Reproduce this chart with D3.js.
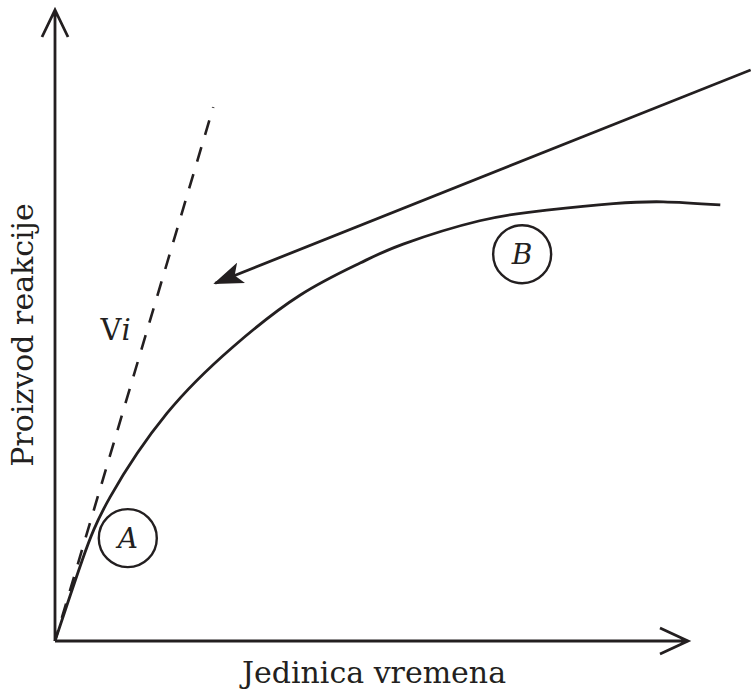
<!DOCTYPE html>
<html>
<head>
<meta charset="utf-8">
<script src="https://cdn.jsdelivr.net/npm/d3@7"></script>
<style>
  body { margin: 0; background: #fff; }
  svg { display: block; }
  text { font-family: "DejaVu Serif", "Liberation Serif", serif; fill: #231f20; }
</style>
</head>
<body>
<div id="chart"></div>
<script>
// set the dimensions of the drawing
const width = 751,
    height = 695;

// product curve (time units, product units)
const curveTime = [0, 0.43, 0.87, 1.77, 2.81, 3.87, 4.82, 5.50, 6.71, 7.77, 8.82, 9.61, 10.51];
const curveProduct = [0, 1.28, 2.28, 3.61, 4.66, 5.48, 5.99, 6.29, 6.66, 6.83, 6.93, 6.96, 6.91];

// initial rate tangent (Vi)
const tangentTime = [0, 2.50];
const tangentProduct = [0, 8.46];

// arrow from upper right pointing towards the tangent
const arrowTime = [10.99, 2.53];
const arrowProduct = [9.05, 5.67];

// circled region labels
const regionLabels = ["A", "B"];
const regionTime = [1.15, 7.38];
const regionProduct = [1.63, 6.13];

const xLabel = "Jedinica vremena";
const yLabel = "Proizvod reakcije";

const ink = "#231f20";

const svg = d3.select("#chart")
    .append("svg")
    .attr("width", width)
    .attr("height", height);

// scales: axis length runs 0..10 in both directions
const x = d3.scaleLinear().domain([0, 10]).range([55, 688]);
const y = d3.scaleLinear().domain([0, 10]).range([641, 10]);

// axes with open arrow heads
const axes = svg.append("g")
    .attr("fill", "none")
    .attr("stroke", ink)
    .attr("stroke-width", 2.8);

axes.append("path")
    .attr("d", `M${x(0)},${y(0)}V${y(10)}M${x(0) - 13},${y(10) + 27}L${x(0)},${y(10)}L${x(0) + 13},${y(10) + 27}`);

axes.append("path")
    .attr("d", `M${x(0)},${y(0)}H${x(10)}M${x(10) - 28},${y(0) - 13}L${x(10)},${y(0)}L${x(10) - 28},${y(0) + 13}`);

// dashed tangent line Vi
svg.append("line")
    .attr("x1", x(tangentTime[0]))
    .attr("y1", y(tangentProduct[0]))
    .attr("x2", x(tangentTime[1]))
    .attr("y2", y(tangentProduct[1]))
    .attr("stroke", ink)
    .attr("stroke-width", 2.6)
    .attr("stroke-dasharray", "15,13")
    .attr("stroke-dashoffset", 4);

// product curve
const line = d3.line()
    .x(d => x(d[0]))
    .y(d => y(d[1]))
    .curve(d3.curveNatural);

svg.append("path")
    .datum(curveTime.map((t, i) => [t, curveProduct[i]]))
    .attr("d", line)
    .attr("fill", "none")
    .attr("stroke", ink)
    .attr("stroke-width", 2.8);

// arrow with filled head
svg.append("defs").append("marker")
    .attr("id", "head")
    .attr("viewBox", "0 -11 30 22")
    .attr("refX", 28)
    .attr("refY", 0)
    .attr("markerWidth", 30)
    .attr("markerHeight", 22)
    .attr("markerUnits", "userSpaceOnUse")
    .attr("orient", "auto")
    .append("path")
    .attr("d", "M0,-11L30,0L0,11L7,0Z")
    .attr("fill", ink);

svg.append("line")
    .attr("x1", x(arrowTime[0]))
    .attr("y1", y(arrowProduct[0]))
    .attr("x2", x(arrowTime[1]))
    .attr("y2", y(arrowProduct[1]))
    .attr("stroke", ink)
    .attr("stroke-width", 2.8)
    .attr("marker-end", "url(#head)");

// circled labels
const regions = svg.selectAll("g.region")
    .data(regionLabels)
    .join("g")
    .attr("class", "region")
    .attr("transform", (d, i) => `translate(${x(regionTime[i])},${y(regionProduct[i])})`);

regions.append("circle")
    .attr("r", 29)
    .attr("fill", "none")
    .attr("stroke", ink)
    .attr("stroke-width", 2.4);

regions.append("text")
    .attr("text-anchor", "middle")
    .attr("dy", "0.35em")
    .style("font-size", "28px")
    .style("font-style", "italic")
    .text(d => d);

// Vi label
const vi = svg.append("text")
    .attr("x", x(0.72))
    .attr("y", y(4.77))
    .style("font-size", "29px");
vi.append("tspan").text("V");
vi.append("tspan").style("font-style", "italic").text("i");

// axis titles
svg.append("text")
    .attr("x", 374)
    .attr("y", 683)
    .attr("text-anchor", "middle")
    .style("font-size", "30px")
    .text(xLabel);

svg.append("text")
    .attr("transform", "translate(33,335) rotate(-90)")
    .attr("text-anchor", "middle")
    .style("font-size", "30px")
    .text(yLabel);
</script>
</body>
</html>
